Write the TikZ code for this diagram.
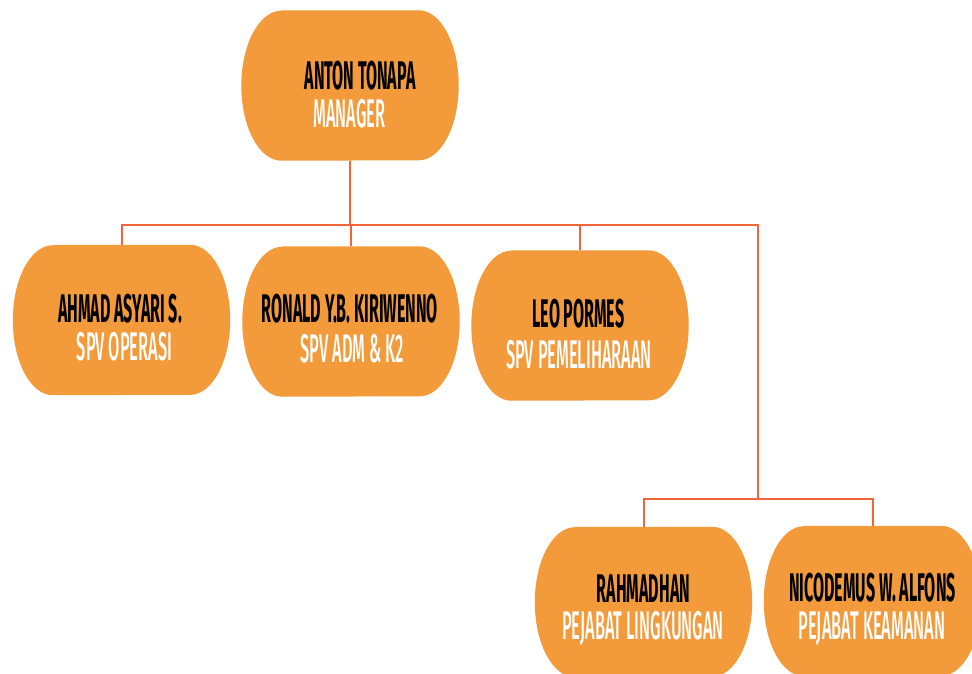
\documentclass[tikz,border=0pt]{standalone}
\usepackage{fontspec}
\newfontfamily\namefont[FakeStretch=0.40]{Fira Sans}
\newfontfamily\rolefont[FakeStretch=0.41]{Fira Sans Medium}
\usetikzlibrary{backgrounds}
\definecolor{boxfill}{HTML}{F39A3B}
\definecolor{linecol}{HTML}{F16538}
\tikzset{
  orgbox/.style={minimum width=217pt, minimum height=150pt, inner sep=0pt, draw=none},
  nametext/.style={inner sep=0pt, text height=27.5pt, text depth=0pt, text=black, font={\namefont\bfseries\fontsize{40pt}{40pt}\selectfont}},
  roletext/.style={inner sep=0pt, text height=27.5pt, text depth=0pt, text=white, font={\rolefont\fontsize{40pt}{40pt}\selectfont}},
  conn/.style={draw=linecol, line width=2pt},
}
\begin{document}
\begin{tikzpicture}[x=1pt,y=-1pt]
\useasboundingbox (0,0) rectangle (972,673);
\clip (0,0) rectangle (972,673);

% boxes
\node[orgbox] (top) at (350,85.5) {};
\node[orgbox] (b1) at (121.5,320) {};
\node[orgbox] (b2) at (351,321.5) {};
\node[orgbox] (b3) at (580,325.5) {};
\node[orgbox] (b4) at (643.5,602) {};
\node[orgbox] (b5) at (872.5,601) {};

\begin{scope}[on background layer]
\fill[white] (0,0) rectangle (972,673);
\foreach \n in {top,b1,b2,b3,b4,b5}{
  \fill[boxfill] ([xshift=40pt]\n.north west) -- ([xshift=-40pt]\n.north east)
    arc[start angle=90,end angle=-90,x radius=40pt,y radius=75pt]
    -- ([xshift=40pt]\n.south west)
    arc[start angle=270,end angle=90,x radius=40pt,y radius=75pt] -- cycle;
}
\end{scope}

% connectors
\coordinate (busR) at (758,225);
\coordinate (j2) at (758,499);
\draw[conn] (top.south) -- (top.south |- busR);
\draw[conn] (b1.north) |- (busR) -- (j2);
\draw[conn] (b2.north) -- (b2.north |- busR);
\draw[conn] (b3.north) -- (b3.north |- busR);
\draw[conn] (b4.north) |- (j2) -| (b5.north);

% texts
\node[nametext] (topn) at (360,76) {ANTON TONAPA};
\node[roletext] (topr) at (349.5,114) {MANAGER};
\node[nametext] (b1n) at (120,309) {AHMAD ASYARI S.};
\node[roletext] (b1r) at (124.5,347) {SPV OPERASI};
\node[nametext] (b2n) at (350,308.5) {RONALD Y.B. KIRIWENNO};
\node[roletext] (b2r) at (352.5,349) {SPV ADM \& K2};
\node[nametext] (b3n) at (578.5,314) {LEO PORMES};
\node[roletext] (b3r) at (579,355) {SPV PEMELIHARAAN};
\node[nametext] (b4n) at (643.5,589) {RAHMADHAN};
\node[roletext] (b4r) at (643,626) {PEJABAT LINGKUNGAN};
\node[nametext] (b5n) at (872.5,587.5) {NICODEMUS W. ALFONS};
\node[roletext] (b5r) at (872,626) {PEJABAT KEAMANAN};
\end{tikzpicture}
\end{document}
